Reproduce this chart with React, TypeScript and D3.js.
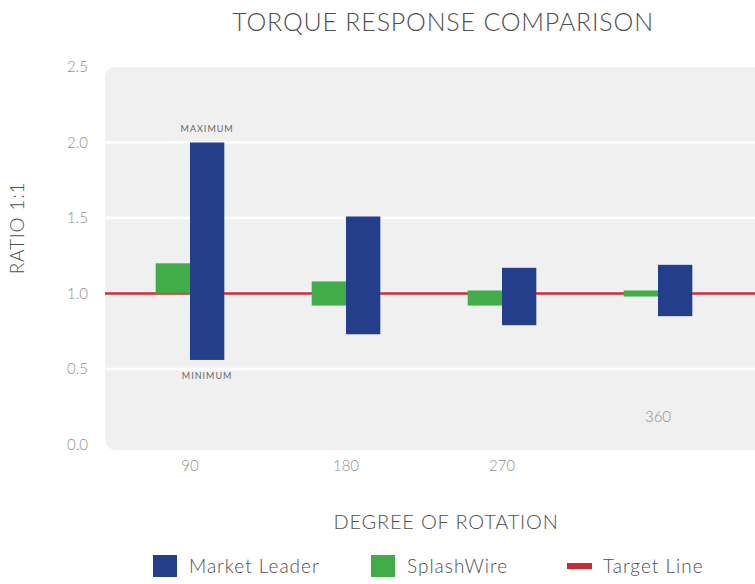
import React, { useEffect, useRef } from 'react'
import * as d3 from 'd3'

const categories = ['90', '180', '270', '360']
const leaderMax = [2.0, 1.51, 1.17, 1.19]
const leaderMin = [0.56, 0.73, 0.79, 0.85]
const splashMax = [1.2, 1.08, 1.02, 1.02]
const splashMin = [1.0, 0.92, 0.92, 0.98]
const target = 1.0
const yTicks = [0, 0.5, 1.0, 1.5, 2.0, 2.5]
const legendItems = ['Market Leader', 'SplashWire', 'Target Line']

const BLUE = '#233f8b'
const GREEN = '#41ad49'
const RED = '#cc2b36'
const FONT = 'Lato, "Open Sans", sans-serif'

const draw = (node: SVGSVGElement) => {
  const width = 755
  const height = 584
  const svg = d3.select(node)
  svg.selectAll('*').remove()
  svg.attr('width', width).attr('height', height)

  const y = d3.scaleLinear().domain([0, 2.5]).range([444.5, 67])
  const x = d3.scaleBand().domain(categories).range([112, 736])
  const barW = x.bandwidth() * 0.22

  // plot background
  svg
    .append('rect')
    .attr('x', 105)
    .attr('y', 67)
    .attr('width', 670)
    .attr('height', 383)
    .attr('rx', 10)
    .attr('fill', '#f0f0f0')

  // grid
  svg
    .append('g')
    .selectAll('line')
    .data(yTicks.filter((d) => d > 0 && d < 2.5))
    .enter()
    .append('line')
    .attr('x1', 105)
    .attr('x2', width)
    .attr('y1', (d) => y(d))
    .attr('y2', (d) => y(d))
    .attr('stroke', '#ffffff')
    .attr('stroke-width', 2.5)

  // y tick labels
  svg
    .append('g')
    .selectAll('text')
    .data(yTicks)
    .enter()
    .append('text')
    .text((d) => d.toFixed(1))
    .attr('x', 88)
    .attr('y', (d) => y(d))
    .attr('dy', '0.35em')
    .attr('text-anchor', 'end')
    .attr('font-family', FONT)
    .attr('font-weight', 300)
    .attr('font-size', 15)
    .attr('fill', '#8f8f8f')

  // target line
  svg
    .append('line')
    .attr('x1', 105)
    .attr('x2', width)
    .attr('y1', y(target))
    .attr('y2', y(target))
    .attr('stroke', RED)
    .attr('stroke-width', 2.5)

  const center = (c: string) => (x(c) as number) + x.bandwidth() / 2

  // SplashWire bars
  svg
    .append('g')
    .selectAll('rect')
    .data(categories)
    .enter()
    .append('rect')
    .attr('x', (d) => center(d) - barW)
    .attr('width', barW)
    .attr('y', (d, i) => y(splashMax[i]))
    .attr('height', (d, i) => y(splashMin[i]) - y(splashMax[i]))
    .attr('fill', GREEN)

  // Market Leader bars
  svg
    .append('g')
    .selectAll('rect')
    .data(categories)
    .enter()
    .append('rect')
    .attr('x', (d) => center(d))
    .attr('width', barW)
    .attr('y', (d, i) => y(leaderMax[i]))
    .attr('height', (d, i) => y(leaderMin[i]) - y(leaderMax[i]))
    .attr('fill', BLUE)

  // max / min annotations on first leader bar
  const annX = center(categories[0]) + barW / 2
  const ann = svg
    .append('g')
    .attr('font-family', FONT)
    .attr('font-size', 9)
    .attr('fill', '#666')
    .attr('text-anchor', 'middle')
    .attr('letter-spacing', 1)
  ann.append('text').text('MAXIMUM').attr('x', annX).attr('y', y(leaderMax[0]) - 11)
  ann.append('text').text('MINIMUM').attr('x', annX).attr('y', y(leaderMin[0]) + 19)

  // x tick labels (last one sits inside the plot)
  svg
    .append('g')
    .selectAll('text')
    .data(categories)
    .enter()
    .append('text')
    .text((d) => d)
    .attr('x', (d) => center(d))
    .attr('y', (d, i) => (i === categories.length - 1 ? 417 : 466))
    .attr('dy', '0.35em')
    .attr('text-anchor', 'middle')
    .attr('font-family', FONT)
    .attr('font-weight', 300)
    .attr('font-size', 15)
    .attr('fill', '#8f8f8f')

  // titles
  svg
    .append('text')
    .text('TORQUE RESPONSE COMPARISON')
    .attr('x', 443)
    .attr('y', 31)
    .attr('text-anchor', 'middle')
    .attr('font-family', FONT)
    .attr('font-weight', 300)
    .attr('font-size', 25)
    .attr('letter-spacing', 0.8)
    .attr('fill', '#4f4f4f')

  svg
    .append('text')
    .text('DEGREE OF ROTATION')
    .attr('x', 446)
    .attr('y', 529)
    .attr('text-anchor', 'middle')
    .attr('font-family', FONT)
    .attr('font-weight', 300)
    .attr('font-size', 20)
    .attr('letter-spacing', 0.8)
    .attr('fill', '#4f4f4f')

  svg
    .append('text')
    .text('RATIO 1:1')
    .attr('transform', 'translate(24, 228) rotate(-90)')
    .attr('text-anchor', 'middle')
    .attr('font-family', FONT)
    .attr('font-weight', 300)
    .attr('font-size', 19)
    .attr('letter-spacing', 0.8)
    .attr('fill', '#4f4f4f')

  // legend
  const legendX = [153, 371, 567]
  const legend = svg
    .append('g')
    .selectAll('g')
    .data(legendItems)
    .enter()
    .append('g')
    .attr('transform', (d, i) => `translate(${legendX[i]}, 566)`)

  legend
    .append('rect')
    .attr('x', 0)
    .attr('y', (d, i) => (i === 2 ? -3 : -11))
    .attr('width', (d, i) => (i === 2 ? 25 : 24))
    .attr('height', (d, i) => (i === 2 ? 6 : 22))
    .attr('fill', (d, i) => [BLUE, GREEN, RED][i])

  legend
    .append('text')
    .text((d) => d)
    .attr('x', 36)
    .attr('y', 0)
    .attr('dy', '0.35em')
    .attr('font-family', FONT)
    .attr('font-weight', 300)
    .attr('font-size', 19)
    .attr('letter-spacing', 1)
    .attr('fill', '#4f4f4f')
}

const App = () => {
  const ref = useRef<SVGSVGElement>(null)

  useEffect(() => {
    if (ref.current) draw(ref.current)
  }, [])

  return (
    <svg
      ref={ref}
      style={{ position: 'absolute', left: 0, top: 0, display: 'block', background: '#fff' }}
    />
  )
}

export default App
